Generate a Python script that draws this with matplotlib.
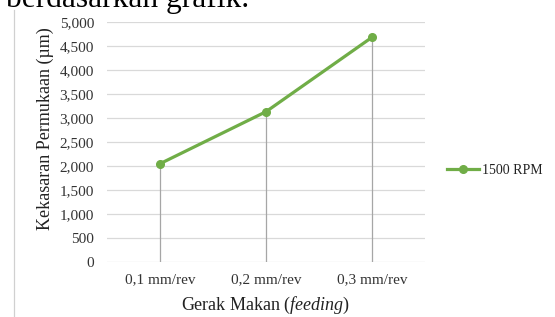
import matplotlib.pyplot as plt
from matplotlib.lines import Line2D

plt.rcParams.update({
    'font.family': ['Liberation Serif', 'DejaVu Serif'],
    'font.size': 11,
    'mathtext.fontset': 'custom',
    'mathtext.rm': 'Liberation Serif',
    'mathtext.it': 'Liberation Serif:italic',
})

# -- data --
categories = ['0,1 mm/rev', '0,2 mm/rev', '0,3 mm/rev']
roughness = [2044, 3129, 4681]      # surface roughness, 1500 RPM
series_name = '1500 RPM'
y_ticks = [0, 500, 1000, 1500, 2000, 2500, 3000, 3500, 4000, 4500, 5000]

green = '#70ad47'
W, H = 555, 317

fig = plt.figure(figsize=(W / 100, H / 100), dpi=100)
ax = fig.add_axes([107 / W, 1 - 261.7 / H, 318 / W, 239.7 / H])

x = list(range(len(categories)))

# horizontal gridlines and drop lines
for t in y_ticks:
    ax.axhline(t, color='#d9d9d9', linewidth=0.9, zorder=0)
ax.vlines(x, 0, roughness, color='#a6a6a6', linewidth=0.9, zorder=1)

ax.plot(x, roughness, color=green, linewidth=2.3, marker='o',
        markersize=5.5, zorder=3)

ax.set_xlim(-0.5, 2.5)
ax.set_ylim(0, 5000)
ax.set_xticks(x)
ax.set_xticklabels(categories)
ax.set_yticks(y_ticks)
ax.set_yticklabels([f'{v:,}' for v in y_ticks])
ax.tick_params(length=0, colors='#333333', labelsize=11)
ax.tick_params(axis='y', pad=9.4)
ax.tick_params(axis='x', pad=8.0)
for s in ax.spines.values():
    s.set_visible(False)

ax.set_ylabel('Kekasaran Permukaan (µm)', fontsize=13, color='#222222')
ax.yaxis.set_label_coords((54 - 107) / 318, (261.7 - 129) / 239.7)
ax.set_xlabel('Gerak Makan $\\it{(feeding)}$', fontsize=13, color='#222222')
ax.xaxis.set_label_coords((266 - 107) / 318, -(295 - 261.7) / 239.7)

# legend to the right of the plot
handle = Line2D([], [], color=green, linewidth=2.3, marker='o', markersize=5.5)
fig.legend([handle], [series_name], loc='center left',
           bbox_to_anchor=(447 / W, 1 - 170 / H), frameon=False,
           borderpad=0, borderaxespad=0, handlelength=2.3,
           handletextpad=0.2, fontsize=10, labelcolor='#222222')

# page border and cut-off line of text above the chart
fig.add_artist(Line2D([13.5 / W, 13.5 / W], [0, 1 - 10 / H],
                      color='#d0d0d0', linewidth=0.9))
fig.text(6 / W, 1 - 7 / H, 'berdasarkan grafik.', fontsize=22.7,
         va='baseline', ha='left', color='black')

fig.savefig('out.png', dpi=100)
